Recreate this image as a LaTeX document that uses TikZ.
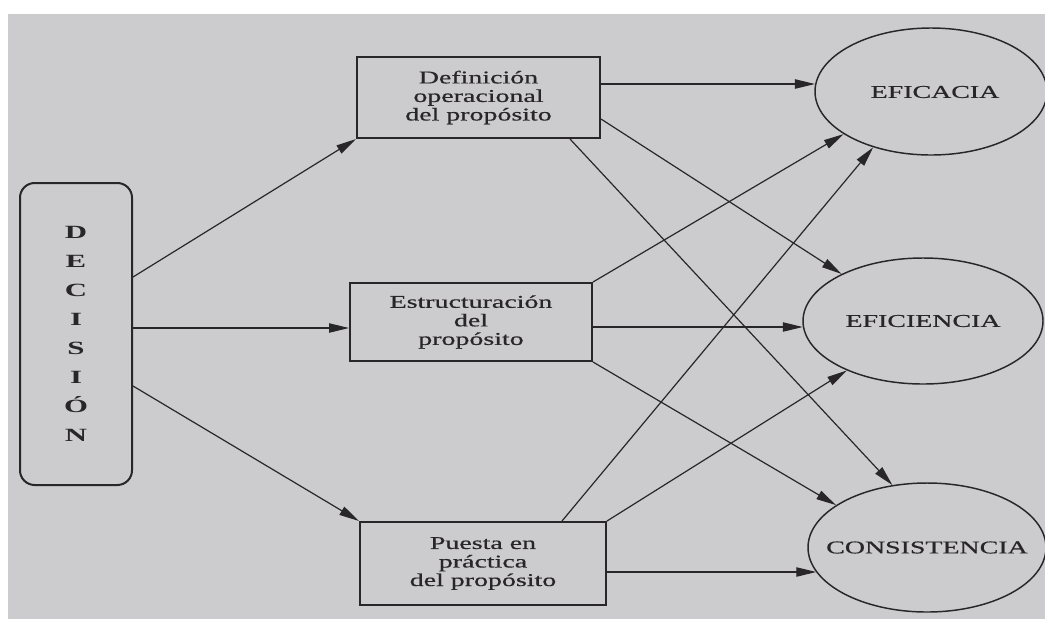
\documentclass[tikz,border=0pt]{standalone}
\usepackage{fontspec}
\setmainfont{Liberation Serif}
\newfontfamily\inkfont[FakeBold=0.5]{Liberation Serif}
\usepackage{graphicx}
\usetikzlibrary{arrows.meta,shapes.geometric,calc}
\definecolor{paper}{RGB}{204,203,205}
\definecolor{ink}{RGB}{40,38,40}
% wide-set lettering used throughout the chart
\newcommand{\strx}[1]{\scalebox{1.55}[1]{#1}}
\newcommand{\strb}[1]{\scalebox{1.65}[1]{\bfseries #1}}
\begin{document}
\begin{tikzpicture}[x=0.75pt,y=-0.75pt,
  box/.style={draw=ink, line width=1.5pt, rectangle, inner sep=0pt, align=center,
    text=ink, font=\inkfont\fontsize{13.5pt}{13.9pt}\selectfont},
  decbox/.style={draw=ink, line width=1.5pt, rectangle, rounded corners=11pt, inner sep=0pt,
    align=center, text=ink, font=\fontsize{14pt}{21.75pt}\selectfont},
  goal/.style={draw=ink, line width=1.1pt, ellipse, inner sep=0pt},
  goaltxt/.style={text=ink, inner sep=0pt, font=\inkfont\fontsize{13.5pt}{15pt}\selectfont},
  arr/.style={draw=ink, line width=0.9pt, -{Triangle[length=15pt,width=7pt]}},
]
% paper sheet
\fill[white] (0,0) rectangle (1045,619);
\fill[paper] (8,14) rectangle (1045,619);
\useasboundingbox (0,0) rectangle (1045,619);

% decision column
\node[decbox, minimum width=84pt, minimum height=226.5pt] (dec) at (76,334)
  {\strb{D}\\\strb{E}\\\strb{C}\\\strb{I}\\\strb{S}\\\strb{I}\\\strb{Ó}\\\strb{N}};

% middle boxes
\node[box, minimum width=182.25pt, minimum height=60.75pt] (b1) at (478.5,97.5)
  {\strx{Definición}\\\strx{operacional}\\\strx{del propósito}};
\node[box, minimum width=181.5pt, minimum height=58.5pt] (b2) at (471,322)
  {\strx{Estructuración}\\\strx{del}\\\strx{propósito}};
\node[box, minimum width=184.5pt, minimum height=62.25pt] (b3) at (483,563.5)
  {\strx{Puesta en}\\\strx{práctica}\\\strx{del propósito}};

% outcome ellipses
\node[goal, minimum width=174pt, minimum height=95.25pt] (ef1) at (931,91.5) {};
\node[goaltxt] (ef1t) at ($(ef1.center)+(4,0.5)$) {\strx{EFICACIA}};
\node[goal, minimum width=180pt, minimum height=94.5pt] (ef2) at (923,321) {};
\node[goaltxt] (ef2t) at (ef2.center) {\strx{EFICIENCIA}};
\node[goal, minimum width=178.5pt, minimum height=96.75pt] (ef3) at (927,547.5) {};
\node[goaltxt] (ef3t) at (ef3.center) {\strx{CONSISTENCIA}};

% decision to the three stages
\draw[arr] ($(dec.east)+(0,-57)$) -- (b1.south west);
\draw[arr] ($(dec.east)+(0,-6)$) -- ($(b2.west)+(0,6)$);
\draw[arr] ($(dec.east)+(0,52)$) -- (b3.north west);

% stages to outcomes
\draw[arr] ($(b1.east)+(0,-13.5)$) -- ($(ef1.west)+(0.7,-7.5)$);
\draw[arr] ($(b1.east)+(0,21.5)$) -- (ef2.150);
\draw[arr] ($(b1.south)+(91.5,0)$) -- (ef3.119);

\draw[arr] (b2.north east) -- (ef1.206);
\draw[arr] ($(b2.east)+(0,5)$) -- ($(ef2.west)+(0.5,6)$);
\draw[arr] (b2.south east) -- (ef3.155);

\draw[arr] ($(b3.north)+(79,0)$) -- (ef1.224);
\draw[arr] (b3.north east) -- (ef2.213);
\draw[arr] ($(b3.east)+(0,8.5)$) -- ($(ef3.west)+(9,24.5)$);
\end{tikzpicture}
\end{document}
